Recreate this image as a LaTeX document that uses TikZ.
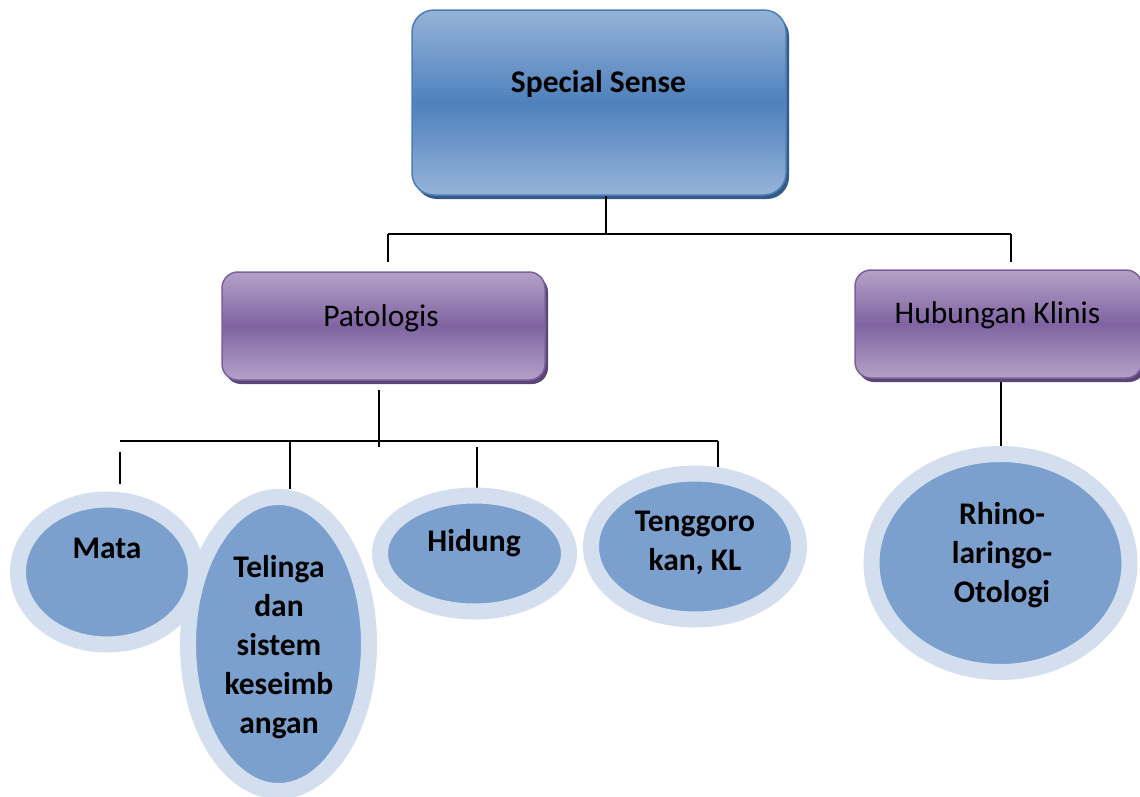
\documentclass[tikz,border=0pt]{standalone}
\usepackage{fontspec}
\setmainfont{Carlito}
\usetikzlibrary{shapes.geometric,shadows,calc}
\definecolor{blueLight}{HTML}{95B3D7}
\definecolor{blueMid}{HTML}{4F81BD}
\definecolor{blueLine}{HTML}{4A7DB9}
\definecolor{blueShadow}{HTML}{355A86}
\definecolor{purLight}{HTML}{B3A2C7}
\definecolor{purMid}{HTML}{8064A2}
\definecolor{purLine}{HTML}{7B5F9F}
\definecolor{purShadow}{HTML}{5B4575}
\definecolor{ringCol}{HTML}{D3DFEE}
\definecolor{innerCol}{HTML}{7BA0CD}
\begin{document}
\begin{tikzpicture}[x=1pt,y=-1pt,
  rootbox/.style={rectangle, rounded corners=22pt, draw=blueLine, line width=1.5pt,
    top color=blueLight, bottom color=blueLight, middle color=blueMid,
    inner sep=0pt, minimum width=374pt, minimum height=185pt,
    drop shadow={shadow xshift=3pt, shadow yshift=-4pt, fill=blueShadow, opacity=1}},
  subbox/.style={rectangle, rounded corners=16pt, draw=purLine, line width=1.5pt,
    top color=purLight, bottom color=purLight, middle color=purMid,
    inner sep=0pt, minimum height=108pt,
    drop shadow={shadow xshift=3pt, shadow yshift=-4pt, fill=purShadow, opacity=1}},
  leaf/.style={ellipse, draw=ringCol, line width=16pt, fill=innerCol, inner sep=0pt},
  boldtxt/.style={font=\bfseries\fontsize{31.5}{39}\selectfont, align=center, inner sep=0pt, anchor=base},
  regtxt/.style={font=\fontsize{31.5}{39}\selectfont, inner sep=0pt, anchor=base},
  conn/.style={draw=black, line width=1.6pt}]
\useasboundingbox (0,0) rectangle (1140,796);
\begin{scope}
\clip (0,0) rectangle (1140,796);
% boxes
\node[rootbox] (root) at (599,102.5) {};
\node[boldtxt] (rootlabel) at (598.5,92) {Special Sense};
\node[subbox, minimum width=323pt] (pat) at (383.5,326) {};
\node[regtxt] (patlabel) at (381,326) {Patologis};
\node[subbox, minimum width=287pt] (hub) at (998.5,324) {};
\node[regtxt] (hublabel) at (997.5,323) {Hubungan Klinis};
% connector coordinates
\coordinate (rootdown) at (606,234);
\coordinate (hL) at (388,234);
\coordinate (hR) at (1011,234);
\coordinate (patin) at (388,262);
\coordinate (hubin) at (1011,262);
\coordinate (patA) at (379,390);
\coordinate (patB) at (379,447);
\coordinate (bL) at (120,441);
\coordinate (bR) at (718,441);
\coordinate (mataA) at (120,452);
\coordinate (mataB) at (120,484);
\coordinate (telA) at (290,441);
\coordinate (telB) at (290,489);
\coordinate (hidA) at (477,447);
\coordinate (hidB) at (477,488);
\coordinate (tenB) at (718,467);
\coordinate (hubA) at (1001,382);
\coordinate (hubB) at (1001,446);
\draw[conn] (root.south -| rootdown) -- (rootdown);
\draw[conn] (hL) -- (hR);
\draw[conn] (hL) -- (patin);
\draw[conn] (hR) -- (hubin);
\draw[conn] (patA) -- (patB);
\draw[conn] (bL) -- (bR);
\draw[conn] (mataA) -- (mataB);
\draw[conn] (telA) -- (telB);
\draw[conn] (hidA) -- (hidB);
\draw[conn] (bR) -- (tenB);
\draw[conn] (hubA) -- (hubB);
% leaves
\node[leaf, minimum width=178pt, minimum height=145pt] (mata) at (107,572) {};
\node[leaf, minimum width=181pt, minimum height=294pt] (tel) at (278.5,644) {};
\node[leaf, minimum width=189pt, minimum height=116pt] (hid) at (474.5,553.5) {};
\node[leaf, minimum width=208pt, minimum height=146pt] (ten) at (695,546.5) {};
\node[leaf, minimum width=258pt, minimum height=218pt] (rhino) at (1000.5,563) {};
\node[boldtxt] (matalabel) at (107,558) {Mata};
\node[boldtxt] (tellabel) at (279,733) {Telinga\\dan\\sistem\\keseimb\\angan};
\node[boldtxt] (hidlabel) at (474,551) {Hidung};
\node[boldtxt] (tenlabel) at (695,570) {Tenggoro\\kan, KL};
\node[boldtxt] (rhinolabel) at (1002,602) {Rhino-\\laringo-\\Otologi};
\end{scope}
\end{tikzpicture}
\end{document}
